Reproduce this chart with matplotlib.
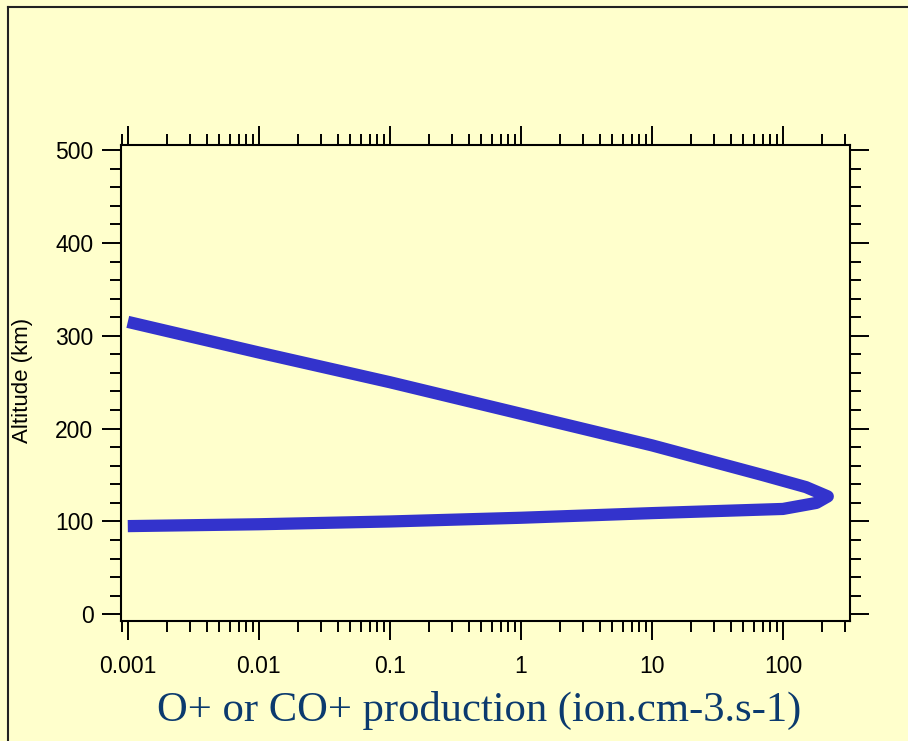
# %% Initialize
import numpy as np
import matplotlib
matplotlib.use('Agg')
import matplotlib.pyplot as plt
from matplotlib.lines import Line2D
from matplotlib.ticker import LogLocator, MultipleLocator, NullFormatter

plt.rcParams['font.family'] = ['Liberation Sans', 'DejaVu Sans']

# %% Data
altitude = [315, 282, 250, 216, 182, 150, 137, 127, 120, 113.5, 109, 104, 100, 97, 95]
production = [0.001, 0.01, 0.1, 1, 10, 70, 150, 220, 180, 100, 10, 1, 0.1, 0.01, 0.001]

xTicks = [0.001, 0.01, 0.1, 1, 10, 100]
xTickLabels = ['0.001', '0.01', '0.1', '1', '10', '100']
yTicks = [0, 100, 200, 300, 400, 500]

bgColor = '#FFFFCC'
lineColor = '#3333CC'
labelColor = '#0B3A6E'

# %% Create plot
W, H = 908, 741
fig = plt.figure(figsize=(W / 100, H / 100), dpi=100, facecolor=bgColor)
ax = fig.add_axes([120.5 / W, 1 - 621 / H, (850 - 120.5) / W, (621 - 145) / H])
ax.set_facecolor(bgColor)

ax.plot(production, altitude, color=lineColor, lw=8.8,
        solid_joinstyle='round', solid_capstyle='butt')

ax.set_xscale('log')
ax.set_xlim(0.00088, 325)
ax.set_ylim(-7.2, 505.5)

ax.set_xticks(xTicks, labels=xTickLabels)
ax.xaxis.set_minor_locator(LogLocator(base=10, subs=np.arange(2, 10)))
ax.xaxis.set_minor_formatter(NullFormatter())
ax.set_yticks(yTicks)
ax.yaxis.set_minor_locator(MultipleLocator(20))

for s in ax.spines.values():
    s.set_linewidth(1.5)

ax.tick_params(which='both', direction='out', top=True, right=True,
               labeltop=False, labelright=False, width=1.4, labelsize=16.5)
ax.tick_params(which='major', length=13.5)
ax.tick_params(which='minor', length=8)
ax.tick_params(axis='x', which='major', pad=11)
ax.tick_params(axis='y', which='major', pad=6)

ax.set_ylabel('Altitude (km)', fontsize=16)
ax.yaxis.set_label_coords(-0.1195, 0.506)

ax.set_xlabel('O+ or CO+ production (ion.cm-3.s-1)', fontsize=30.7,
              family=['Liberation Serif', 'DejaVu Serif'], color=labelColor)
ax.xaxis.set_label_coords(0.491, -0.148)

# frame around the slide
fig.add_artist(Line2D([7.5 / W, 7.5 / W], [0, 1 - 6.5 / H], transform=fig.transFigure,
                      color='#222222', lw=1.5))
fig.add_artist(Line2D([7.5 / W, 1], [1 - 6.5 / H, 1 - 6.5 / H], transform=fig.transFigure,
                      color='#222222', lw=1.5))

fig.savefig('out.png', dpi=100, facecolor=bgColor)
